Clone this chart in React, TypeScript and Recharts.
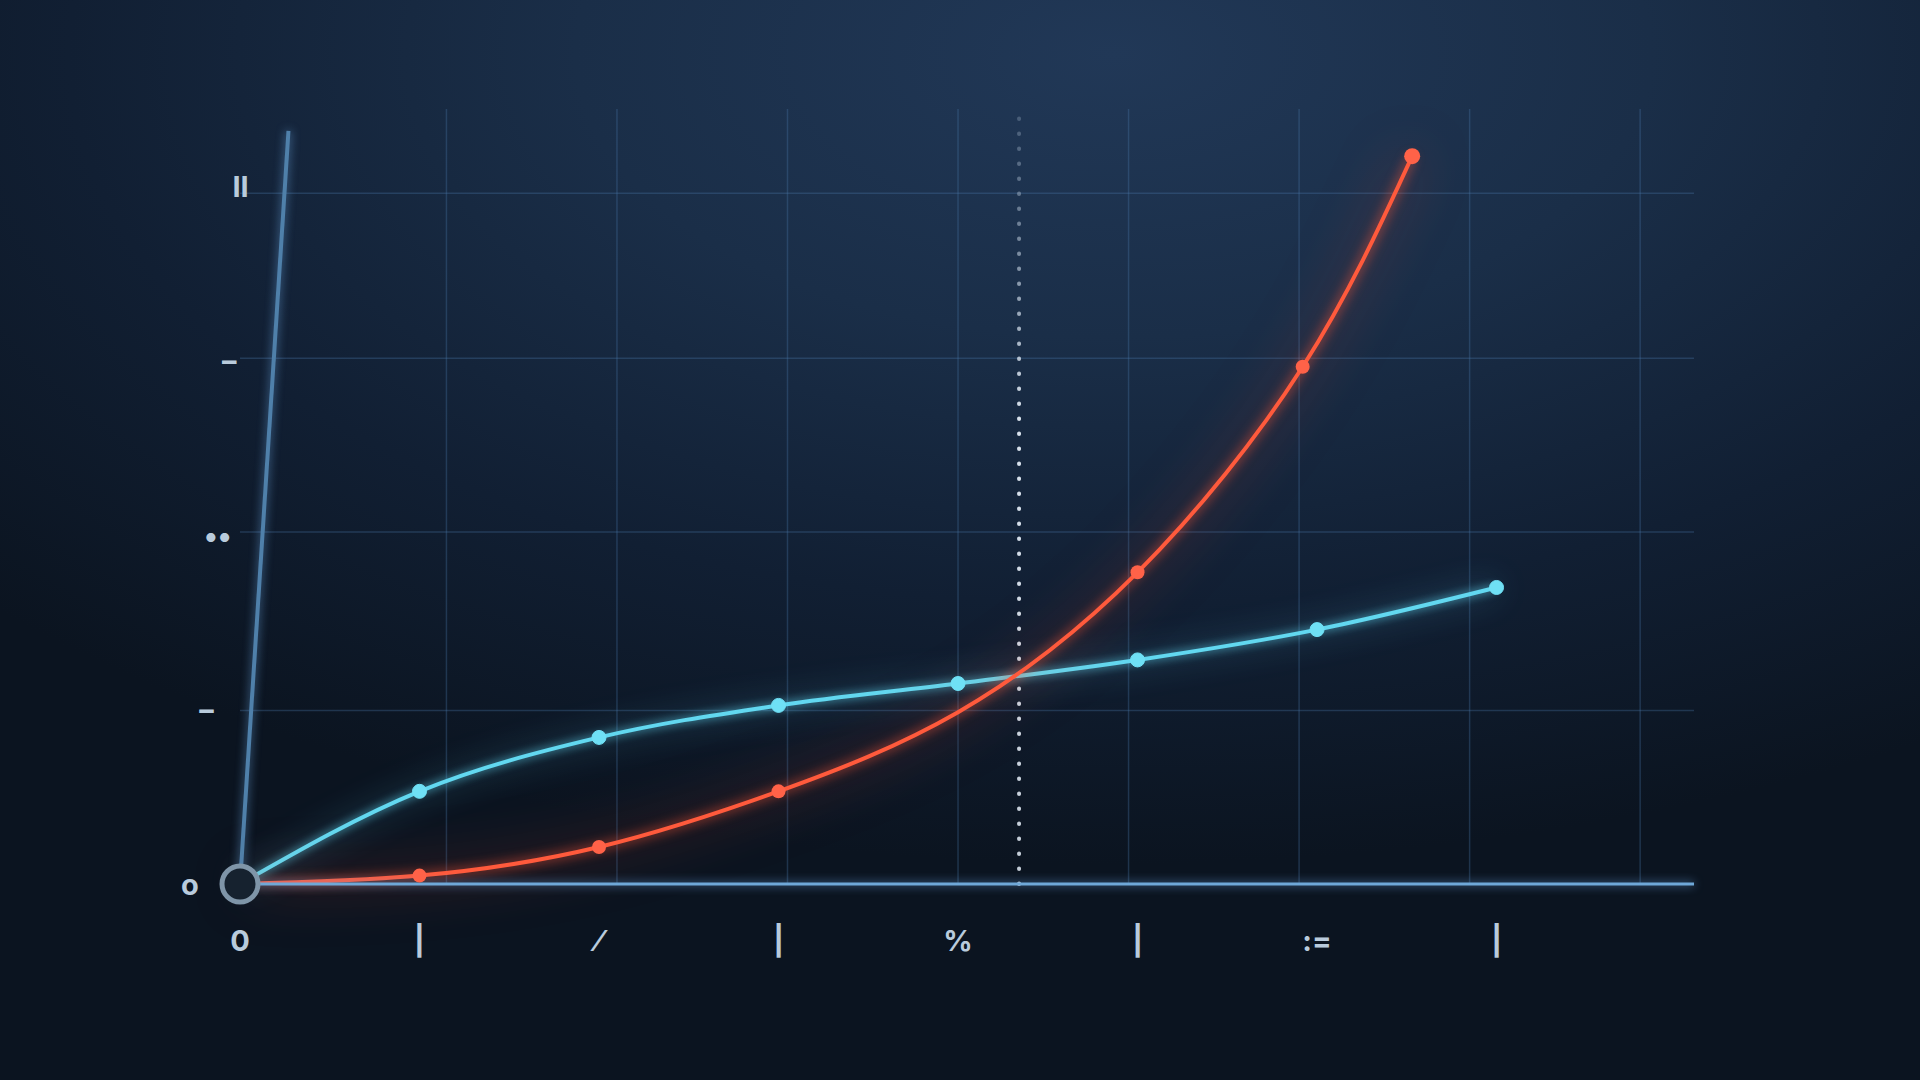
import { CartesianGrid, Line, LineChart, ReferenceDot, ReferenceLine, XAxis, YAxis } from "recharts";

const xTicks = [0, 1, 2, 3, 4, 5, 6, 7];
const xTickLabels = ["0", "|", "⁄", "|", "%", "|", ":=", "|"];
const yTicks = [0, 1, 2, 3, 4];
const yTickLabels = ["o", "–", "••", "–", "II"];

// cyan series: steady growth
const cyanX = [0, 1, 2, 3, 4, 5, 6, 7];
const cyanY = [0, 0.55, 0.87, 1.06, 1.19, 1.33, 1.51, 1.76];

// red series: exponential growth, ends early (the point at 4 has no marker)
const redX = [0, 1, 2, 3, 4, 5, 5.92, 6.53];
const redY = [0, 0.05, 0.22, 0.55, 1.02, 1.85, 3.07, 4.32];
const redMarked = [false, true, true, true, false, true, true, true];

// crossover marker and grid
const crossX = 4.34;
const gridX = [1.15, 2.1, 3.05, 4, 4.95, 5.9, 6.85, 7.8];
const gridY = [1.03, 2.09, 3.12, 4.1];

const cyanData = cyanX.map((x, i) => ({ x, y: cyanY[i] }));
const redData = redX.map((x, i) => ({ x, y: redY[i], marked: redMarked[i] }));

const labelStyle = {
  fontFamily: "Inter, 'DejaVu Sans', sans-serif",
  fontWeight: 700,
  fontSize: 29,
  fill: "#b9cbdc",
};

function XTick(props: any) {
  const { x, y, payload } = props;
  return (
    <text x={x} y={y + 48} textAnchor="middle" dominantBaseline="central" style={labelStyle}>
      {xTickLabels[payload.index] ?? ""}
    </text>
  );
}

function YTick(props: any) {
  const { y, payload } = props;
  const v = payload.value as number;
  // axis leans right as it rises, labels follow it
  const lx = v === 0 ? 190 : 195 + 11.4 * v;
  return (
    <text x={lx} y={y - 6 * v} textAnchor="middle" dominantBaseline="central" style={labelStyle}>
      {yTickLabels[v] ?? ""}
    </text>
  );
}

function RedDot(props: any) {
  const { cx, cy, payload, index } = props;
  if (!payload?.marked) return <g key={`rd-${index}`} />;
  const last = index === redData.length - 1;
  return <circle key={`rd-${index}`} cx={cx} cy={cy} r={last ? 8 : 7} fill="#ff6248" />;
}

export default function App() {
  return (
    <div
      style={{
        position: "absolute",
        left: 0,
        top: 0,
        width: 1920,
        height: 1080,
        overflow: "hidden",
        background:
          "radial-gradient(ellipse 80% 75% at 58% 5%, #213857 0%, #1a2e48 35%, #111f33 68%, #0b1420 100%)",
      }}
    >
      <svg width={0} height={0} style={{ position: "absolute" }}>
        <defs>
          <linearGradient id="fadeDots" gradientUnits="userSpaceOnUse" x1="0" y1="110" x2="0" y2="884">
            <stop offset="0%" stopColor="#7f93aa" stopOpacity={0.4} />
            <stop offset="40%" stopColor="#e2ebf5" stopOpacity={0.95} />
            <stop offset="100%" stopColor="#e2ebf5" stopOpacity={0.85} />
          </linearGradient>
        </defs>
      </svg>
      <style>{`
        .glow-red { filter: drop-shadow(0 0 6px rgba(255,85,55,0.95)) drop-shadow(0 0 26px rgba(255,70,40,0.6)); }
        .glow-cyan { filter: drop-shadow(0 0 5px rgba(100,220,245,0.9)) drop-shadow(0 0 16px rgba(90,200,240,0.45)); }
        .glow-axis { filter: drop-shadow(0 0 5px rgba(110,170,230,0.7)); }
        .recharts-cartesian-axis-tick text { filter: blur(0.8px) drop-shadow(0 0 4px rgba(170,200,230,0.7)); }
        .recharts-xAxis .recharts-cartesian-axis-line { filter: drop-shadow(0 0 5px rgba(110,170,230,0.8)); }
      `}</style>
      <LineChart width={1920} height={1080} margin={{ top: 109, right: 226, bottom: 136, left: 180 }}>
        <CartesianGrid
          stroke="rgba(75,120,170,0.32)"
          strokeWidth={1.5}
          horizontalValues={gridY}
          verticalValues={gridX}
        />
        <XAxis
          type="number"
          dataKey="x"
          domain={[0, 8.1]}
          ticks={xTicks}
          height={60}
          tickLine={false}
          axisLine={{ stroke: "#6fa8d8", strokeWidth: 3 }}
          tick={<XTick />}
          allowDataOverflow
        />
        <YAxis
          type="number"
          dataKey="y"
          domain={[0, 4.6]}
          ticks={yTicks}
          width={60}
          tickLine={false}
          axisLine={false}
          tick={<YTick />}
          allowDataOverflow
        />
        <ReferenceLine
          segment={[
            { x: 0, y: 0 },
            { x: 0.27, y: 4.47 },
          ]}
          stroke="#4f80aa"
          strokeWidth={4}
          className="glow-axis"
        />
        <ReferenceLine
          x={crossX}
          stroke="url(#fadeDots)"
          strokeWidth={4}
          strokeDasharray="0.5 14.5"
          strokeLinecap="round"
        />
        <Line
          data={cyanData}
          dataKey="y"
          type="monotone"
          stroke="#62d8f0"
          strokeWidth={4}
          dot={{ r: 7, fill: "#6fe0f5", stroke: "#6fe0f5", strokeWidth: 1 }}
          className="glow-cyan"
          isAnimationActive={false}
        />
        <Line
          data={redData}
          dataKey="y"
          type="natural"
          stroke="#ff5a3c"
          strokeWidth={4}
          dot={<RedDot />}
          className="glow-red"
          isAnimationActive={false}
        />
        <ReferenceDot x={0} y={0} r={18} fill="#16222f" stroke="#7f95a8" strokeWidth={5} />
      </LineChart>
    </div>
  );
}
